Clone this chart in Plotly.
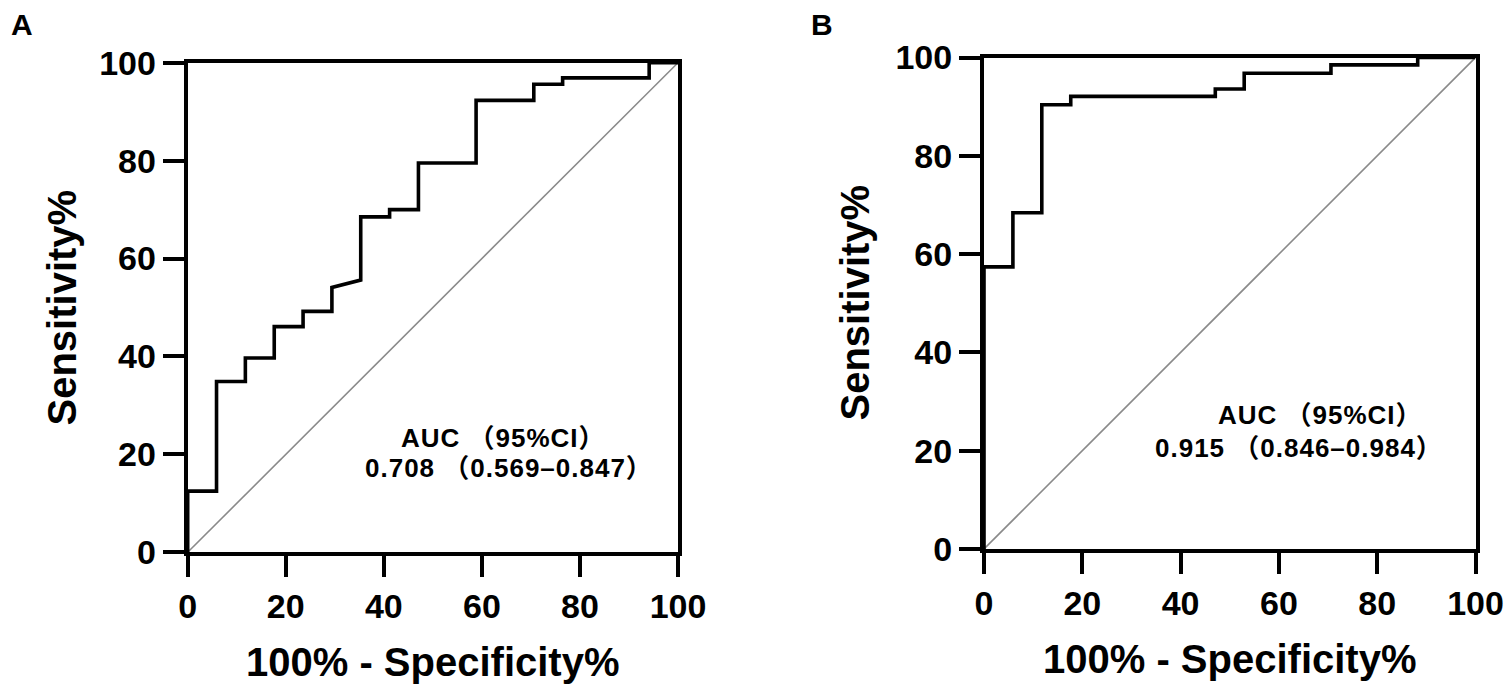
import plotly.graph_objects as go

# ---- data ----
# Panel A ROC curve vertices: 100% - Specificity% (x) and Sensitivity% (y)
a_fpr = [0, 0, 5.88, 5.88, 11.76, 11.76, 17.65, 17.65, 23.53, 23.53, 29.41, 29.41,
         35.29, 35.29, 41.18, 41.18, 47.06, 47.06, 58.82, 58.82, 70.59, 70.59,
         76.47, 76.47, 94.12, 94.12, 100]
a_tpr = [0, 12.5, 12.5, 34.9, 34.9, 39.7, 39.7, 46.1, 46.1, 49.2, 49.2, 54.1,
         55.6, 68.5, 68.5, 70.0, 70.0, 79.5, 79.5, 92.3, 92.3, 95.6,
         95.6, 96.9, 96.9, 100, 100]

# Panel B ROC curve vertices
b_fpr = [0, 0, 5.88, 5.88, 11.76, 11.76, 17.65, 17.65, 47.06, 47.06, 52.94, 52.94,
         70.59, 70.59, 88.24, 88.24, 100]
b_tpr = [0, 57.4, 57.4, 68.4, 68.4, 90.4, 90.4, 92.1, 92.1, 93.6, 93.6, 96.8,
         96.8, 98.5, 98.5, 100, 100]

# reference (chance) line
ref_x = [0, 100]
ref_y = [0, 100]

tick_vals = [0, 20, 40, 60, 80, 100]
tick_text = ["0", "20", "40", "60", "80", "100"]

panel_labels = ["A", "B"]
auc_head = "AUC（95%CI）"
auc_a = "0.708（0.569–0.847）"
auc_b = "0.915（0.846–0.984）"
x_title = "100% - Specificity%"
y_title = "Sensitivity%"

# page body has an 8px default margin: size the figure to fit the 1512x692 window
OFF = 8
W, H = 1512 - 2 * OFF, 692 - 2 * OFF
FONT = "Liberation Sans, Noto Sans CJK SC, sans-serif"


def px(v):
    return (v - OFF) / W


def py(v):
    return 1 - (v - OFF) / H


def styled(t):
    # slight tracking and a gap before the full-width bracket, as in the original
    return '<span style="letter-spacing:1px">' + t.replace("（", " （") + "</span>"


fig = go.Figure()

for i, (fx, ty) in enumerate([(a_fpr, a_tpr), (b_fpr, b_tpr)]):
    xa = "x" if i == 0 else "x2"
    ya = "y" if i == 0 else "y2"
    fig.add_trace(go.Scatter(x=ref_x, y=ref_y, mode="lines",
                             line=dict(color="#8a8a8a", width=1.6),
                             xaxis=xa, yaxis=ya, showlegend=False, hoverinfo="skip"))
    fig.add_trace(go.Scatter(x=fx, y=ty, mode="lines",
                             line=dict(color="black", width=3.6),
                             xaxis=xa, yaxis=ya, showlegend=False))

# plot-area edges in window pixels
ax_a = dict(x0=187.7, x1=678.0, yb=552.3, yt=62.7)
ax_b = dict(x0=984.0, x1=1475.5, yb=549.0, yt=57.5)

axis_common = dict(
    range=[0, 100], showgrid=False, zeroline=False,
    showline=True, linecolor="black", linewidth=4, mirror=True,
    ticks="outside", ticklen=21, tickwidth=4, tickcolor="black",
    tickvals=tick_vals, ticktext=tick_text,
    tickfont=dict(family=FONT, size=34, color="black", weight="bold"),
    automargin=False, fixedrange=True,
)

fig.update_layout(
    width=W, height=H,
    margin=dict(l=0, r=0, t=0, b=0),
    paper_bgcolor="white", plot_bgcolor="white",
    xaxis=dict(domain=[px(ax_a["x0"]), px(ax_a["x1"])], anchor="y", **axis_common),
    yaxis=dict(domain=[py(ax_a["yb"]), py(ax_a["yt"])], anchor="x", **axis_common),
    xaxis2=dict(domain=[px(ax_b["x0"]), px(ax_b["x1"])], anchor="y2", **axis_common),
    yaxis2=dict(domain=[py(ax_b["yb"]), py(ax_b["yt"])], anchor="x2", **axis_common),
    showlegend=False,
)

title_font = dict(family=FONT, size=40, color="black", weight="bold")
ann = []
# axis titles
for d in (ax_a, ax_b):
    ann.append(dict(text=x_title, xref="paper", yref="paper",
                    x=px((d["x0"] + d["x1"]) / 2), y=py(d["yb"] + 110),
                    xanchor="center", yanchor="middle", showarrow=False, font=title_font))
ann.append(dict(text=y_title, xref="paper", yref="paper", x=px(61), y=py(307.5),
                xanchor="center", yanchor="middle", textangle=-90, showarrow=False,
                font=title_font))
ann.append(dict(text=y_title, xref="paper", yref="paper", x=px(855), y=py(302.5),
                xanchor="center", yanchor="middle", textangle=-90, showarrow=False,
                font=title_font))
# panel letters
for lbl, lx in zip(panel_labels, (22, 822)):
    ann.append(dict(text=lbl, xref="paper", yref="paper", x=px(lx), y=py(25),
                    xanchor="center", yanchor="middle", showarrow=False,
                    font=dict(family=FONT, size=30, color="black", weight="bold")))
# AUC texts
auc_font = dict(family=FONT, size=26, color="black", weight="bold")
ann += [
    dict(text=styled(auc_head), xref="x", yref="y", x=43.1, y=23.4, xanchor="left",
         yanchor="middle", showarrow=False, font=auc_font),
    dict(text=styled(auc_a), xref="x", yref="y", x=35.8, y=17.3, xanchor="left",
         yanchor="middle", showarrow=False, font=auc_font),
    dict(text=styled(auc_head), xref="x2", yref="y2", x=47.2, y=27.2, xanchor="left",
         yanchor="middle", showarrow=False, font=auc_font),
    dict(text=styled(auc_b), xref="x2", yref="y2", x=34.4, y=20.6, xanchor="left",
         yanchor="middle", showarrow=False, font=auc_font),
]
fig.update_layout(annotations=ann)

fig.write_html("out.html")
